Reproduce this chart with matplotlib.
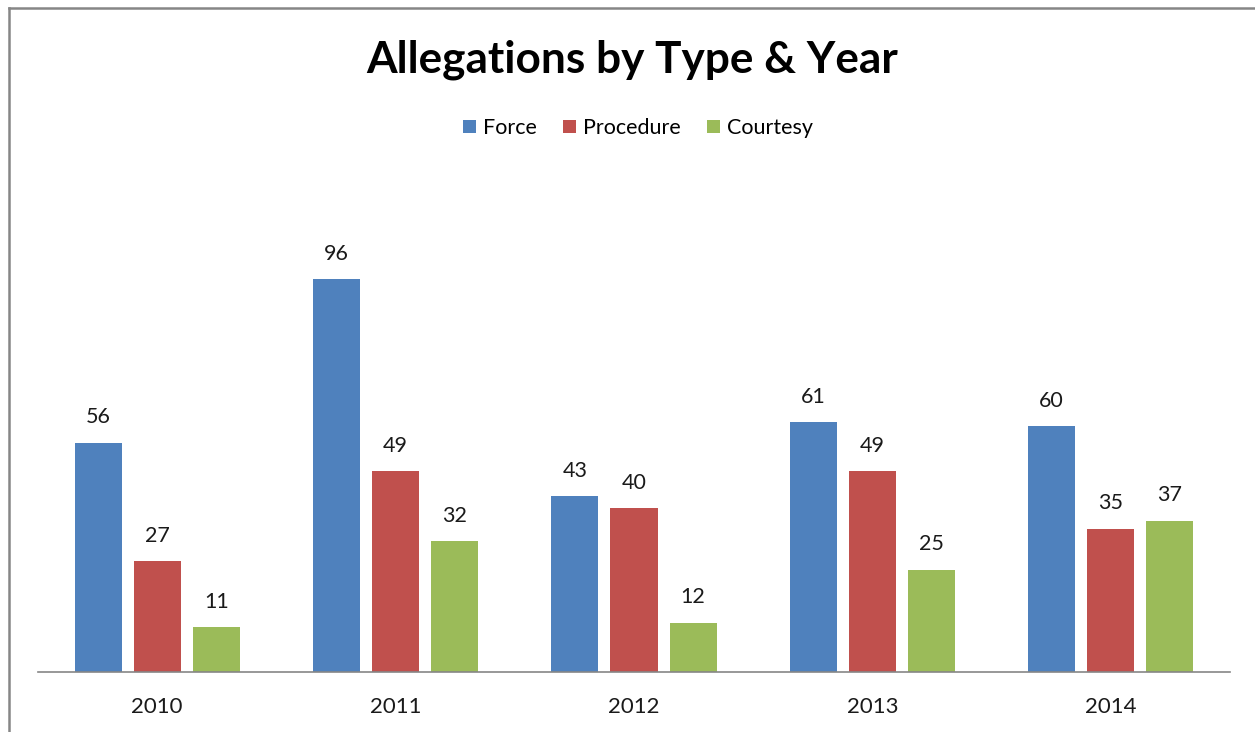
import numpy as np
import matplotlib.pyplot as plt
from matplotlib.lines import Line2D

years = ["2010", "2011", "2012", "2013", "2014"]
force = [56, 96, 43, 61, 60]
procedure = [27, 49, 40, 49, 35]
courtesy = [11, 32, 12, 25, 37]

series = [("Force", force, "#4F81BD"),
          ("Procedure", procedure, "#C0504D"),
          ("Courtesy", courtesy, "#9BBB59")]

plt.rcParams["font.family"] = ["Lato", "DejaVu Sans"]

fig = plt.figure(figsize=(12.55, 7.32), dpi=100)
ax = fig.add_axes([38 / 1255, 60 / 732, 1192 / 1255, 409.4 / 732])

x = np.arange(len(years))
width = 0.1975
step = 0.248
for i, (name, vals, color) in enumerate(series):
    pos = x + (i - 1) * step
    bars = ax.bar(pos, vals, width, color=color, label=name)
    for b, v in zip(bars, vals):
        ax.annotate(str(v), (b.get_x() + b.get_width() / 2, v),
                    xytext=(0, 14), textcoords="offset points",
                    ha="center", va="baseline", fontsize=15.5, color="#1a1a1a")

ax.set_xlim(-0.5, 4.5)
ax.set_ylim(0, 100)
ax.set_xticks(x)
ax.set_xticklabels(years, fontsize=16, color="#1a1a1a")
ax.tick_params(axis="x", length=0, pad=18)
ax.set_yticks([])
for s in ["top", "right", "left"]:
    ax.spines[s].set_visible(False)
ax.spines["bottom"].set_color("#868686")
ax.spines["bottom"].set_linewidth(1.2)

fig.text(632 / 1255, 1 - 60 / 732, "Allegations by Type & Year",
         ha="center", va="center", fontsize=31.8, fontweight="bold")

fig.legend(loc="center", bbox_to_anchor=(638 / 1255, 1 - 128 / 732),
           ncol=3, frameon=False, fontsize=15.5, handlelength=0.6,
           handleheight=0.6, handletextpad=0.35, columnspacing=1.2)

# chart frame (cropped at right and bottom)
fig.add_artist(Line2D([9 / 1255, 9 / 1255], [0, 1 - 8 / 732],
                      transform=fig.transFigure, color="#868686", lw=1.8))
fig.add_artist(Line2D([9 / 1255, 1], [1 - 8 / 732, 1 - 8 / 732],
                      transform=fig.transFigure, color="#868686", lw=1.8))

fig.savefig("out.png", dpi=100)
